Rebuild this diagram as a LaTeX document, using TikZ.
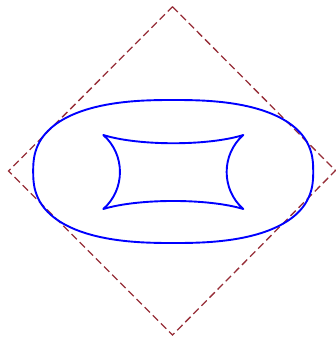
\documentclass[tikz,border=0pt]{standalone}
\definecolor{diamondcol}{RGB}{150,45,55}
\tikzset{
  frameline/.style={draw=diamondcol, line width=1.3pt, dash pattern=on 7.5pt off 4pt},
  curveline/.style={draw=blue, line width=1.9pt, line join=round},
}
\begin{document}
\begin{tikzpicture}[x=1pt,y=-1pt]
\useasboundingbox (0,0) rectangle (336,338);
% dashed diamond
\coordinate (T) at (172.5,6.7);
\coordinate (R) at (335.5,170.5);
\coordinate (B) at (172.5,335);
\coordinate (L) at (8.5,171);
\draw[frameline] (T) -- (R) -- (B) -- (L) -- cycle;
% outer rounded curve (superellipse)
\draw[curveline] plot[domain=1:361, samples=241, variable=\t]
  ({173.2+140*sign(cos(\t))*abs(cos(\t))^0.8},
   {171.5+71.5*sign(sin(\t))*abs(sin(\t))^0.8}) -- cycle;
% inner four-cusped curve
\coordinate (c1) at (103.3,135);
\coordinate (c2) at (243.3,135);
\coordinate (c3) at (243.3,209);
\coordinate (c4) at (103.3,209);
\draw[curveline] (c1) .. controls (138.3,146) and (208.3,146) .. (c2)
  .. controls (221.1,154.5) and (221.1,189.5) .. (c3)
  .. controls (208.3,198.3) and (138.3,198.3) .. (c4)
  .. controls (125.5,189.5) and (125.5,154.5) .. (c1) -- cycle;
\end{tikzpicture}
\end{document}
